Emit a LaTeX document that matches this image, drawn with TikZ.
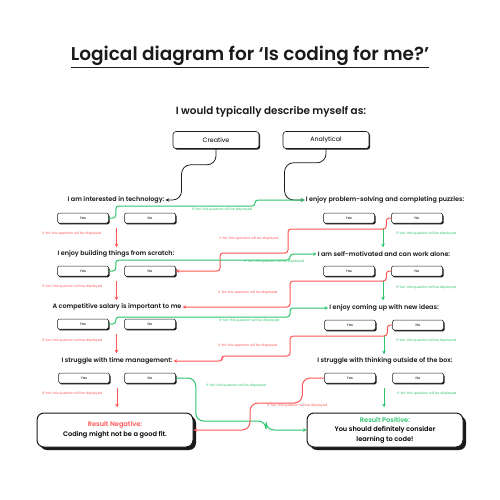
\documentclass[tikz,border=0pt]{standalone}
\usepackage{fontspec}
\setmainfont{Poppins}[BoldFont={Poppins SemiBold}]
\usetikzlibrary{arrows.meta,calc,shadows}
\definecolor{yesgreen}{HTML}{2EC46E}
\definecolor{nored}{HTML}{FF5757}
\definecolor{ink}{HTML}{1A1A1A}
\tikzset{
  heading/.style={font=\fontsize{18.5}{20}\selectfont\bfseries,text=ink,inner sep=0pt},
  subheading/.style={font=\fontsize{10.4}{12}\selectfont\bfseries,text=ink,inner sep=0pt},
  kind/.style={draw=ink,fill=white,line width=0.6pt,rounded corners=3pt,
    minimum width=86pt,minimum height=17pt,inner sep=0pt,font=\fontsize{6.3}{7}\selectfont,
    drop shadow={shadow xshift=1.2pt,shadow yshift=-1.2pt,opacity=1,fill=ink}},
  question/.style={font=\fontsize{6.4}{7}\selectfont\bfseries,text=ink,inner sep=1pt},
  choice/.style={draw=ink,fill=white,line width=0.5pt,rounded corners=1.5pt,
    minimum width=51pt,minimum height=10pt,inner sep=0pt,font=\fontsize{3.5}{4}\selectfont,
    drop shadow={shadow xshift=1pt,shadow yshift=-1.3pt,opacity=1,fill=ink}},
  result/.style={draw=ink,fill=white,line width=1pt,rounded corners=7pt,align=center,
    minimum width=156pt,minimum height=34pt,inner sep=0pt,
    font=\fontsize{6.6}{9.5}\selectfont\bfseries,
    drop shadow={shadow xshift=3pt,shadow yshift=-3pt,opacity=1,fill=ink}},
  note/.style={font=\fontsize{3.3}{4}\selectfont,inner sep=0pt},
  yesnote/.style={note,text=yesgreen},
  nonote/.style={note,text=nored},
  link/.style={-{Stealth[length=3.5pt,width=3.5pt]},draw=ink,line width=0.8pt,rounded corners=9pt},
  yesarrow/.style={-{Stealth[length=3.5pt,width=3.5pt]},draw=yesgreen,line width=1pt,rounded corners=3pt},
  noarrow/.style={-{Stealth[length=3.5pt,width=3.5pt]},draw=nored,line width=1pt,rounded corners=3pt}
}
\begin{document}
\begin{tikzpicture}[x=1pt,y=-1pt]
  \fill[white] (0,0) rectangle (500,500);
  \useasboundingbox (0,0) rectangle (500,500);

  \node[heading] (title) at (250,57) {\underline{Logical diagram for ‘Is coding for me?’}};
  \node[subheading] (intro) at (271,112) {I would typically describe myself as:};
  \node[kind] (creative) at (216,140) {Creative};
  \node[kind] (analytical) at (326,140) {Analytical};

  % left column
  \node[question] (tech) at (116,200) {I am interested in technology:};
  \node[choice] (techY) at (83,218) {Yes};
  \node[choice] (techN) at (150,218) {No};
  \node[question] (scratch) at (116,254) {I enjoy building things from scratch:};
  \node[choice] (scratchY) at (83,271) {Yes};
  \node[choice] (scratchN) at (150,271) {No};
  \node[question] (salary) at (117,307) {A competitive salary is important to me};
  \node[choice] (salaryY) at (83,324) {Yes};
  \node[choice] (salaryN) at (150,324) {No};
  \node[question] (time) at (117,361) {I struggle with time management:};
  \node[choice] (timeY) at (84,378) {Yes};
  \node[choice] (timeN) at (150,378) {No};

  % right column
  \node[question] (puzzles) at (385,200) {I enjoy problem-solving and completing puzzles:};
  \node[choice] (puzzlesY) at (349,218) {Yes};
  \node[choice] (puzzlesN) at (417,218) {No};
  \node[question] (alone) at (384,254) {I am self-motivated and can work alone:};
  \node[choice] (aloneY) at (349,271) {Yes};
  \node[choice] (aloneN) at (417,271) {No};
  \node[question] (ideas) at (384,308) {I enjoy coming up with new ideas:};
  \node[choice] (ideasY) at (350,325) {Yes};
  \node[choice] (ideasN) at (418,325) {No};
  \node[question] (outside) at (385,361) {I struggle with thinking outside of the box:};
  \node[choice] (outsideY) at (350,378) {Yes};
  \node[choice] (outsideN) at (418,378) {No};

  % results
  \node[result] (neg) at (115,430) {{\color{nored}Result Negative:}\\Coding might not be a good fit.};
  \node[result] (pos) at (385,430) {{\color{yesgreen}Result Positive:}\\You should definitely consider\\learning to code!};

  % starting choice
  \draw[link] (creative.south) -- ++(0,16) -| ($(tech.east)+(16,0)$) -- (tech.east);
  \draw[link] (analytical.south) -- ++(0,14) -| ($(puzzles.west)+(-20,0)$) -- (puzzles.west);

  % straight down
  \draw[noarrow] ($(techY.south east)!.5!(techN.south west)+(0,5)$) -- ++(0,19);
  \draw[noarrow] ($(scratchY.south east)!.5!(scratchN.south west)+(0,5)$) -- ++(0,19);
  \draw[noarrow] ($(salaryY.south east)!.5!(salaryN.south west)+(0,5)$) -- ++(0,19);
  \draw[noarrow] ($(timeY.south east)!.5!(timeN.south west)+(0,5)$) -- ++(0,19);
  \draw[yesarrow] ($(puzzlesY.south east)!.5!(puzzlesN.south west)+(0,5)$) -- ++(0,19);
  \draw[yesarrow] ($(aloneY.south east)!.5!(aloneN.south west)+(0,5)$) -- ++(0,19);
  \draw[yesarrow] ($(ideasY.south east)!.5!(ideasN.south west)+(0,5)$) -- ++(0,19);
  \draw[yesarrow] ($(outsideY.south east)!.5!(outsideN.south west)+(0,5)$) -- ++(0,19);

  % across
  \draw[yesarrow] (techY.east) -- ++(7,0) |- (255,206) |- (puzzles.west);
  \draw[noarrow] (puzzlesN.west) -- ++(-5,0) |- (288,229) |- (220,253) |- (scratchN.east);
  \draw[yesarrow] (scratchY.east) -- ++(7,0) |- (290,260) |- (alone.west);
  \draw[noarrow] (aloneN.west) -- ++(-5,0) |- (290,281) |- (salary.east);
  \draw[yesarrow] (salaryY.east) -- ++(7,0) |- (290,317) |- (ideas.west);
  \draw[noarrow] (ideasN.west) -- ++(-5,0) |- (290,336) |- (222,356) |- (time.east);
  \draw[yesarrow,rounded corners=8pt] (timeN.east) -- ++(20,0) |- (266,421) |- (pos.west);
  \draw[noarrow,rounded corners=8pt] (outsideY.west) -- ++(-22,0) |- (250,403) |- (neg.east);

  % labels
  \node[nonote] (techNote) at (72,234) {If ‘No’ this question will be displayed};
  \node[yesnote] (techYes) at (222,210) {If ‘Yes’ this question will be displayed};
  \node[nonote] (puzzlesNo) at (249,239) {If ‘No’ this question will be displayed};
  \node[yesnote] (puzzlesNote) at (426,234) {If ‘Yes’ this question will be displayed};
  \node[yesnote] (scratchYes) at (274,262) {If ‘Yes’ this question will be displayed};
  \node[nonote] (scratchNote) at (72,287) {If ‘Yes’ this question will be displayed};
  \node[nonote] (aloneNo) at (248,293) {If ‘No’ this question will be displayed};
  \node[yesnote] (aloneNote) at (426,288) {If ‘Yes’ this question will be displayed};
  \node[yesnote] (salaryYes) at (249,321) {If ‘Yes’ this question will be displayed};
  \node[nonote] (salaryNote) at (72,341) {If ‘Yes’ this question will be displayed};
  \node[nonote] (ideasNo) at (248,346) {If ‘No’ this question will be displayed};
  \node[yesnote] (ideasNote) at (426,341) {If ‘Yes’ this question will be displayed};
  \node[nonote] (timeNote) at (72,394) {If ‘Yes’ this question will be displayed};
  \node[yesnote] (timeNo) at (236,386) {If ‘Yes’ this question will be displayed};
  \node[nonote] (outsideYes) at (297,406) {If ‘Yes’ this question will be displayed};
  \node[yesnote] (outsideNote) at (427,394) {If ‘No’ this question will be displayed};
\end{tikzpicture}
\end{document}
